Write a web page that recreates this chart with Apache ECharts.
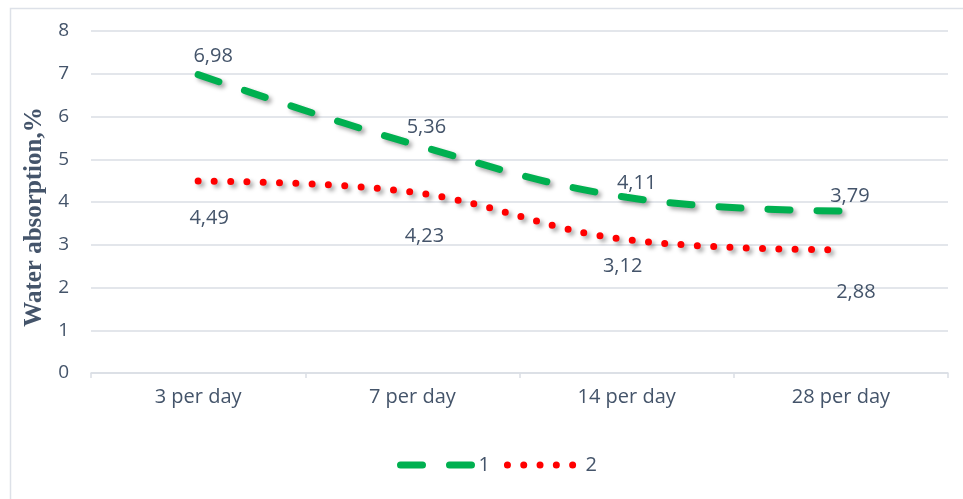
<!DOCTYPE html>
<html>
<head>
<meta charset="utf-8">
<script src="https://cdn.jsdelivr.net/npm/echarts@6/dist/echarts.min.js"></script>
<style>
  html, body { margin: 0; padding: 0; background: #ffffff; }
  #chart { width: 963px; height: 499px; }
</style>
</head>
<body>
<div id="chart"></div>
<script>
// Water absorption over curing time
const categories = ['3 per day', '7 per day', '14 per day', '28 per day'];
const series1 = [6.98, 5.36, 4.11, 3.79];
const series2 = [4.49, 4.23, 3.12, 2.88];
const seriesNames = ['1', '2'];
const yTicks = { min: 0, max: 8, interval: 1 };

// per-point label nudges (pixels) relative to the point
const labelShift1 = [[15, -18], [14, -17], [10, -14], [9, -15]];
const labelShift2 = [[11, 37], [12, 44], [-4, 27], [15, 42]];

const textColor = '#44546a';
const gridColor = '#dadee5';
const fmt = v => v.toFixed(2).replace('.', ',');

function pointData(values, shifts) {
  return values.map((v, i) => ({
    value: v,
    label: { offset: shifts[i] }
  }));
}

const labelStyle = {
  show: true, position: 'inside', color: textColor,
  fontFamily: 'Open Sans', fontSize: 20,
  formatter: p => fmt(p.value)
};

const chart = echarts.init(document.getElementById('chart'), null, { renderer: 'canvas' });
chart.setOption({
  animation: false,
  backgroundColor: '#ffffff',
  grid: { left: 91, right: 15, top: 31, bottom: 126, containLabel: false },
  graphic: [{
    type: 'rect',
    shape: { x: 10.5, y: 8.5, width: 970, height: 510 },
    style: { fill: 'none', stroke: '#dde1e8', lineWidth: 1.5 },
    silent: true, z: -1
  }],
  xAxis: {
    type: 'category',
    data: categories,
    boundaryGap: true,
    axisLine: { lineStyle: { color: gridColor, width: 1.5 } },
    axisTick: { show: true, length: 5, lineStyle: { color: gridColor, width: 1.5 } },
    axisLabel: { color: textColor, fontFamily: 'Open Sans', fontSize: 20, margin: 14 }
  },
  yAxis: {
    type: 'value',
    min: yTicks.min, max: yTicks.max, interval: yTicks.interval,
    name: 'Water absorption,%',
    nameLocation: 'middle',
    nameGap: 43,
    nameTextStyle: {
      color: textColor, fontFamily: 'Liberation Serif', fontWeight: 'bold', fontSize: 25,
      padding: [0, 30, 0, 0]
    },
    axisLine: { show: false },
    axisTick: { show: false },
    splitLine: { lineStyle: { color: gridColor, width: 1.5 } },
    axisLabel: { color: textColor, fontFamily: 'Open Sans', fontSize: 19, margin: 22 }
  },
  legend: {
    top: 450,
    left: 392,
    itemWidth: 75,
    itemHeight: 14,
    itemGap: 14,
    itemStyle: { opacity: 0 },
    textStyle: { color: textColor, fontFamily: 'Open Sans', fontSize: 20, padding: [0, 0, 0, -2] },
    lineStyle: { width: 'inherit' },
    data: seriesNames
  },
  series: [
    {
      name: seriesNames[0],
      type: 'line',
      smooth: 0.4,
      symbol: 'circle',
      symbolSize: 0,
      data: pointData(series1, labelShift1),
      lineStyle: {
        color: '#00b050', width: 7, type: [22, 27], cap: 'round',
        shadowColor: 'rgba(0,0,0,0.35)', shadowBlur: 4, shadowOffsetX: 3, shadowOffsetY: 3
      },
      itemStyle: { color: '#00b050' },
      label: labelStyle,
      z: 3
    },
    {
      name: seriesNames[1],
      type: 'line',
      smooth: 0.4,
      symbol: 'circle',
      symbolSize: 0,
      data: pointData(series2, labelShift2),
      lineStyle: {
        color: '#ff0000', width: 7, type: [0, 16.3], cap: 'round',
        shadowColor: 'rgba(0,0,0,0.35)', shadowBlur: 4, shadowOffsetX: 3, shadowOffsetY: 3
      },
      itemStyle: { color: '#ff0000' },
      label: labelStyle,
      z: 2
    }
  ]
});
</script>
</body>
</html>
